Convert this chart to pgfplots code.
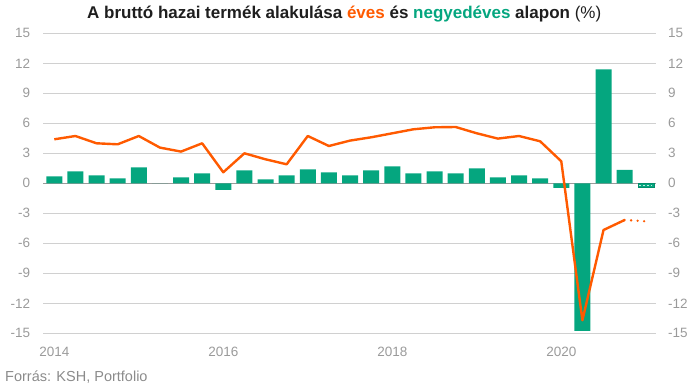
\documentclass[border=0pt]{standalone}
\usepackage{pgfplots}
\pgfplotsset{compat=1.18}
\usepackage{fontspec}
\setmainfont{Liberation Sans}
\definecolor{grn}{HTML}{05A67F}
\definecolor{org}{HTML}{FF5A00}
\definecolor{tickgray}{HTML}{9A9A9A}
\definecolor{gridgray}{HTML}{D0D0D0}
\definecolor{zerogray}{HTML}{9A9A9A}
\definecolor{titlec}{HTML}{1E1E1E}
\begin{document}
\begin{tikzpicture}[x=1pt,y=1pt]
\useasboundingbox (0,0) rectangle (697,389);
\pgfplotsset{myax/.style={
  scale only axis, width=612.4pt, height=300pt,
  at={(43.3pt,55.7pt)}, anchor=south west,
  xmin=-0.52, xmax=28.47, ymin=-15, ymax=15,
  ytick={-15,-12,...,15},
  yticklabels={-15,-12,-9,-6,-3,0,3,6,9,12,15},
  axis line style={draw=none},
  major tick length=0pt,
  tick label style={font=\fontsize{13.5}{15}\selectfont, text=tickgray},
}}
\begin{axis}[myax,
  ymajorgrids, grid style={gridgray, line width=0.8pt},
  extra y ticks={0}, extra y tick labels={},
  extra y tick style={grid style={zerogray, line width=1.2pt}},
  xtick={0,8,16,24}, xticklabels={2014,2016,2018,2020},
  xticklabel style={anchor=north, inner sep=0pt, yshift=-14pt},
  yticklabel style={anchor=east, inner sep=0pt, xshift=-13pt},
  clip=false]
\addplot[ybar, bar width=16pt, fill=grn, draw=none] coordinates {
(0,0.7) (1,1.2) (2,0.8) (3,0.5) (4,1.6) (5,0.0) (6,0.6) (7,1.0)
(8,-0.65) (9,1.3) (10,0.4) (11,0.8) (12,1.4) (13,1.1) (14,0.8) (15,1.3)
(16,1.7) (17,1.0) (18,1.2) (19,1.0) (20,1.5) (21,0.6) (22,0.8) (23,0.5)
(24,-0.45) (25,-14.75) (26,11.4) (27,1.35)};
\addplot[ybar, bar width=16pt, fill=grn, draw=grn!85!black, line width=0.5pt] coordinates {(28,-0.4)};
\addplot[white!75!grn, line width=0.8pt, dash pattern=on 2pt off 2pt] coordinates {(27.7,-0.2) (28.3,-0.2)};
\addplot[org, line width=2.4pt, line join=round] coordinates {
(0,4.4) (1,4.73) (2,4.0) (3,3.9) (4,4.73) (5,3.57) (6,3.17) (7,4.0)
(8,1.1) (9,3.0) (10,2.4) (11,1.9) (12,4.73) (13,3.73) (14,4.27) (15,4.6)
(16,5.0) (17,5.4) (18,5.6) (19,5.63) (20,5.0) (21,4.47) (22,4.73) (23,4.2)
(24,2.2) (25,-13.7) (26,-4.67) (27,-3.67)};
\addplot[org, line width=2.6pt, line cap=round, dash pattern=on 0pt off 6.5pt] coordinates {(27,-3.67) (28,-3.8)};
\end{axis}
\begin{axis}[myax, hide x axis,
  yticklabel pos=right,
  yticklabel style={anchor=west, inner sep=0pt, xshift=12.3pt}]
\end{axis}
\node[anchor=base west, inner sep=0pt, text=titlec, font=\fontsize{17}{20}\selectfont] at (87,370)
  {\textbf{A bruttó hazai termék alakulása \textcolor{org}{éves} és \textcolor{grn}{negyedéves} alapon} (\%)};
\node[anchor=base west, inner sep=0pt, text=tickgray!90!black, font=\fontsize{14.5}{17}\selectfont] at (5,7.3)
  {Forrás: KSH, Portfolio};
\end{tikzpicture}
\end{document}
